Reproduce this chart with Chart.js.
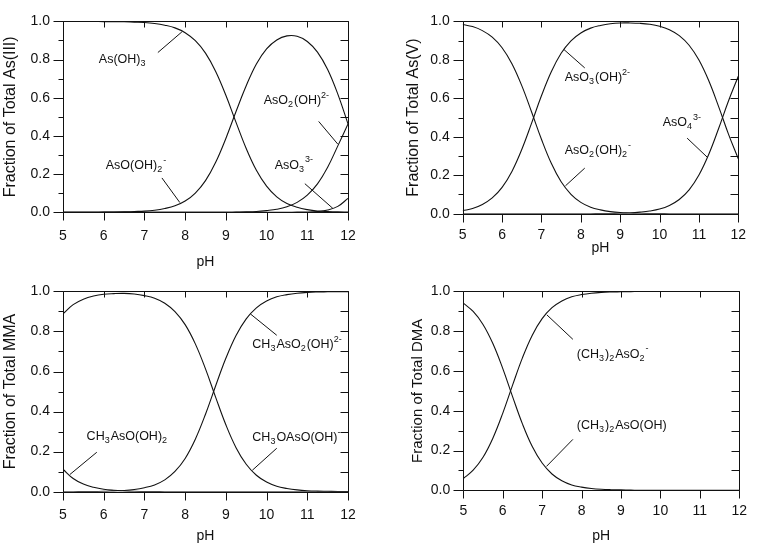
<!DOCTYPE html>
<html lang="en">
<head>
<meta charset="UTF-8" />
<title>Arsenic speciation vs pH</title>
<style>
  html, body { margin: 0; padding: 0; background: #fff; }
  body { width: 759px; height: 547px; position: relative; overflow: hidden; }
  canvas { position: absolute; }
</style>
</head>
<body>
  <canvas id="c1"></canvas>
  <canvas id="c2"></canvas>
  <canvas id="c3"></canvas>
  <canvas id="c4"></canvas>

<script src="https://cdn.jsdelivr.net/npm/chart.js"></script>
<script>
// pH grid shared by all four panels
const pH = [5, 5.25, 5.5, 5.75, 6, 6.25, 6.5, 6.75, 7, 7.25, 7.5, 7.75, 8, 8.25, 8.5, 8.75,
            9, 9.25, 9.5, 9.75, 10, 10.25, 10.5, 10.75, 11, 11.25, 11.5, 11.75, 12];

// As(III)
const asOH3   = [1.000, 1.000, 1.000, 1.000, 0.999, 0.999, 0.998, 0.996, 0.994, 0.989, 0.980, 0.966, 0.941, 0.899, 0.834, 0.738,
                 0.613, 0.471, 0.334, 0.220, 0.137, 0.081, 0.046, 0.026, 0.014, 0.007, 0.004, 0.002, 0.001];
const asOOH2  = [0.000, 0.000, 0.000, 0.000, 0.001, 0.001, 0.002, 0.004, 0.006, 0.011, 0.020, 0.034, 0.059, 0.101, 0.166, 0.262,
                 0.387, 0.528, 0.663, 0.777, 0.856, 0.903, 0.924, 0.922, 0.895, 0.839, 0.748, 0.619, 0.463];
const asO2OH  = [0, 0, 0, 0, 0, 0, 0, 0, 0, 0, 0, 0, 0, 0, 0, 0,
                 0, 0.001, 0.002, 0.004, 0.009, 0.016, 0.029, 0.052, 0.090, 0.149, 0.236, 0.348, 0.463];
const asO3    = [0, 0, 0, 0, 0, 0, 0, 0, 0, 0, 0, 0, 0, 0, 0, 0,
                 0, 0, 0, 0, 0, 0, 0, 0.001, 0.001, 0.004, 0.012, 0.031, 0.073];

// As(V)
const asO2OH2 = [0.984, 0.973, 0.952, 0.918, 0.863, 0.780, 0.666, 0.529, 0.387, 0.262, 0.166, 0.101, 0.059, 0.034, 0.020, 0.011,
                 0.006, 0.004, 0.002, 0.001, 0.001, 0, 0, 0, 0, 0, 0, 0, 0];
const asO3OH  = [0.016, 0.027, 0.048, 0.082, 0.137, 0.220, 0.334, 0.471, 0.613, 0.738, 0.834, 0.899, 0.940, 0.965, 0.979, 0.988,
                 0.992, 0.992, 0.990, 0.985, 0.975, 0.957, 0.926, 0.876, 0.799, 0.691, 0.557, 0.414, 0.285];
const asO4    = [0, 0, 0, 0, 0, 0, 0, 0, 0, 0, 0, 0, 0, 0, 0.001, 0.001,
                 0.002, 0.004, 0.008, 0.014, 0.024, 0.043, 0.074, 0.124, 0.201, 0.309, 0.443, 0.586, 0.715];

// MMA
const mmaH2   = [0.112, 0.066, 0.038, 0.022, 0.012, 0.007, 0.004, 0.002, 0.001, 0.001, 0, 0, 0, 0, 0, 0,
                 0, 0, 0, 0, 0, 0, 0, 0, 0, 0, 0, 0, 0];
const mmaH    = [0.888, 0.934, 0.961, 0.977, 0.986, 0.989, 0.990, 0.987, 0.979, 0.966, 0.941, 0.899, 0.834, 0.738, 0.613, 0.471,
                 0.334, 0.220, 0.137, 0.082, 0.048, 0.027, 0.016, 0.009, 0.005, 0.003, 0.002, 0.001, 0.001];
const mma     = [0, 0, 0.001, 0.001, 0.002, 0.004, 0.006, 0.011, 0.020, 0.034, 0.059, 0.101, 0.166, 0.262, 0.387, 0.529,
                 0.666, 0.780, 0.863, 0.918, 0.952, 0.973, 0.984, 0.991, 0.995, 0.997, 0.998, 0.999, 0.999];

// DMA
const dmaH    = [0.941, 0.899, 0.834, 0.738, 0.613, 0.471, 0.334, 0.220, 0.137, 0.082, 0.048, 0.027, 0.016, 0.009, 0.005, 0.003,
                 0.002, 0.001, 0, 0, 0, 0, 0, 0, 0, 0, 0, 0, 0];
const dma     = [0.059, 0.101, 0.166, 0.262, 0.387, 0.529, 0.666, 0.780, 0.863, 0.918, 0.952, 0.973, 0.984, 0.991, 0.995, 0.997,
                 0.998, 0.999, 1, 1, 1, 1, 1, 1, 1, 1, 1, 1, 1];

const INK = '#111';
const FONT = '"Liberation Sans", Arial, Helvetica, sans-serif';
const TICK_SIZE = 14;
const NOTE_SIZE = 12.5;

// species labels: text with _sub and ^sup, left/centre anchor and leader line in data units
const panels = [
  {
    id: 'c1', left: 0, top: 0, w: 380, h: 271,
    area: { l: 63, t: 10, r: 348, b: 212.3 },
    yTitle: 'Fraction of Total As(III)', yTitleSize: 16, yTitlePad: 1.4, xPad: 15.3,
    series: [asOH3, asOOH2, asO2OH, asO3],
    notes: [
      { text: 'As(OH)_3', x: 5.88, y: 0.80, line: [7.33, 0.837, 7.92, 0.945] },
      { text: 'AsO(OH)_2^-', x: 6.05, y: 0.246, line: [7.43, 0.18, 7.87, 0.051] },
      { text: 'AsO_2(OH)^{2-}', x: 9.93, y: 0.585, line: [11.28, 0.476, 11.75, 0.357] },
      { text: 'AsO_3^{3-}', x: 10.20, y: 0.247, line: [10.94, 0.15, 11.63, 0.02] }
    ]
  },
  {
    id: 'c2', left: 380, top: 0, w: 379, h: 257,
    area: { l: 82.7, t: 11, r: 368.3, b: 213.7 },
    yTitle: 'Fraction of Total As(V)', yTitleSize: 16, yTitlePad: 23.7, xPad: 12.9,
    series: [asO2OH2, asO3OH, asO4],
    notes: [
      { text: 'AsO_3(OH)^{2-}', x: 7.59, y: 0.709, line: [8.10, 0.758, 7.57, 0.854] },
      { text: 'AsO_2(OH)_2^-', x: 7.59, y: 0.326, line: [8.10, 0.237, 7.61, 0.145] },
      { text: 'AsO_4^{3-}', x: 10.08, y: 0.472, line: [10.70, 0.393, 11.21, 0.294] }
    ]
  },
  {
    id: 'c3', left: 0, top: 270, w: 380, h: 275,
    area: { l: 63, t: 18.3, r: 348, b: 221.7 },
    yTitle: 'Fraction of Total MMA', yTitleSize: 16, yTitlePad: 0.7, xPad: 14.9,
    series: [mmaH2, mmaH, mma],
    notes: [
      { text: 'CH_3AsO(OH)_2', x: 5.58, y: 0.274, line: [5.83, 0.197, 5.17, 0.086] },
      { text: 'CH_3AsO_2(OH)^{2-}', x: 9.65, y: 0.733, line: [10.25, 0.781, 9.60, 0.888] },
      { text: 'CH_3OAsO(OH)^-', x: 9.65, y: 0.271, line: [10.25, 0.217, 9.65, 0.107] }
    ]
  },
  {
    id: 'c4', left: 380, top: 270, w: 379, h: 275,
    area: { l: 83.3, t: 17.3, r: 369, b: 220.3 },
    yTitle: 'Fraction of Total DMA', yTitleSize: 15, yTitlePad: 29.3, xPad: 12,
    series: [dmaH, dma],
    notes: [
      { text: '(CH_3)_2AsO_2^-', x: 7.88, y: 0.685, line: [7.78, 0.759, 7.12, 0.882] },
      { text: '(CH_3)_2AsO(OH)', x: 7.88, y: 0.325, line: [7.78, 0.256, 7.11, 0.12] }
    ]
  }
];

// split "AsO_2(OH)^{2-}" into runs of normal / sub / sup text
function parseRich(str) {
  const runs = [];
  let i = 0, buf = '';
  while (i < str.length) {
    const c = str[i];
    if (c === '_' || c === '^') {
      if (buf) { runs.push({ t: buf, k: 'n' }); buf = ''; }
      let t;
      if (str[i + 1] === '{') {
        const end = str.indexOf('}', i + 2);
        t = str.slice(i + 2, end);
        i = end + 1;
      } else {
        t = str[i + 1];
        i += 2;
      }
      runs.push({ t, k: c === '_' ? 'sub' : 'sup' });
    } else {
      buf += c;
      i++;
    }
  }
  if (buf) runs.push({ t: buf, k: 'n' });
  return runs;
}

function drawRich(ctx, str, x, y, size) {
  const small = size * 0.72;
  ctx.textBaseline = 'middle';
  ctx.textAlign = 'left';
  for (const r of parseRich(str)) {
    let dy = 0, s = size;
    if (r.k === 'sub') { s = small; dy = size * 0.32; }
    if (r.k === 'sup') { s = small; dy = -size * 0.42; }
    ctx.font = s + 'px ' + FONT;
    ctx.fillText(r.t, x, y + dy);
    x += ctx.measureText(r.t).width;
    if (r.k === 'sub') x += 1;
  }
}

// frame, inward/outward tick marks, species labels and leader lines
const frameAndNotes = {
  id: 'frameAndNotes',
  afterDraw(chart, args, opts) {
    const { ctx, chartArea: a, scales: { x, y } } = chart;
    const snap = v => Math.round(v) + 0.5;
    ctx.save();
    ctx.strokeStyle = INK;
    ctx.lineWidth = 1;
    ctx.beginPath();
    const L = snap(a.left), R = snap(a.right), T = snap(a.top), B = snap(a.bottom);
    ctx.rect(L, T, R - L, B - T);
    for (let v = 5; v <= 12; v++) {
      const px = snap(x.getPixelForValue(v));
      ctx.moveTo(px, B); ctx.lineTo(px, B + 8);
      ctx.moveTo(px, T); ctx.lineTo(px, T + 6);
    }
    for (let i = 0; i <= 10; i++) {
      const py = snap(y.getPixelForValue(i / 10));
      ctx.moveTo(L, py); ctx.lineTo(L - (i % 2 ? 5 : 10), py);
      ctx.moveTo(R, py); ctx.lineTo(R - 8, py);
    }
    ctx.stroke();

    ctx.fillStyle = INK;
    ctx.beginPath();
    for (const n of opts.notes || []) {
      const [x1, y1, x2, y2] = n.line;
      ctx.moveTo(x.getPixelForValue(x1), y.getPixelForValue(y1));
      ctx.lineTo(x.getPixelForValue(x2), y.getPixelForValue(y2));
    }
    ctx.stroke();
    for (const n of opts.notes || []) {
      drawRich(ctx, n.text, x.getPixelForValue(n.x), y.getPixelForValue(n.y), NOTE_SIZE);
    }
    ctx.restore();
  }
};

for (const p of panels) {
  const cv = document.getElementById(p.id);
  cv.width = p.w; cv.height = p.h;
  cv.style.left = p.left + 'px'; cv.style.top = p.top + 'px';
  cv.style.width = p.w + 'px'; cv.style.height = p.h + 'px';

  new Chart(cv, {
    type: 'line',
    data: {
      datasets: p.series.map(s => ({
        data: pH.map((v, i) => ({ x: v, y: s[i] })),
        borderColor: INK,
        borderWidth: 1.1,
        pointRadius: 0,
        tension: 0.4,
        fill: false
      }))
    },
    options: {
      responsive: false,
      animation: false,
      devicePixelRatio: 1,
      layout: { padding: { top: p.area.t, right: p.w - p.area.r, left: 0, bottom: 0 } },
      plugins: {
        legend: { display: false },
        tooltip: { enabled: false },
        frameAndNotes: { notes: p.notes }
      },
      scales: {
        x: {
          type: 'linear', min: 5, max: 12,
          grid: { display: false, drawTicks: false },
          border: { display: false },
          ticks: { stepSize: 1, padding: p.xPad, color: INK, font: { family: FONT, size: TICK_SIZE } },
          title: { display: true, text: 'pH', color: INK, padding: { top: 0, bottom: 0 }, font: { family: FONT, size: 14 } },
          afterFit: s => { s.height = p.h - p.area.b; }
        },
        y: {
          min: 0, max: 1,
          grid: { display: false, drawTicks: false },
          border: { display: false },
          ticks: { stepSize: 0.2, padding: 13, color: INK, font: { family: FONT, size: TICK_SIZE }, callback: v => v.toFixed(1) },
          title: { display: true, text: p.yTitle, color: INK, padding: { top: p.yTitlePad, bottom: 0 }, font: { family: FONT, size: p.yTitleSize } },
          afterFit: s => { s.width = p.area.l; }
        }
      }
    },
    plugins: [frameAndNotes]
  });
}
</script>
</body>
</html>
